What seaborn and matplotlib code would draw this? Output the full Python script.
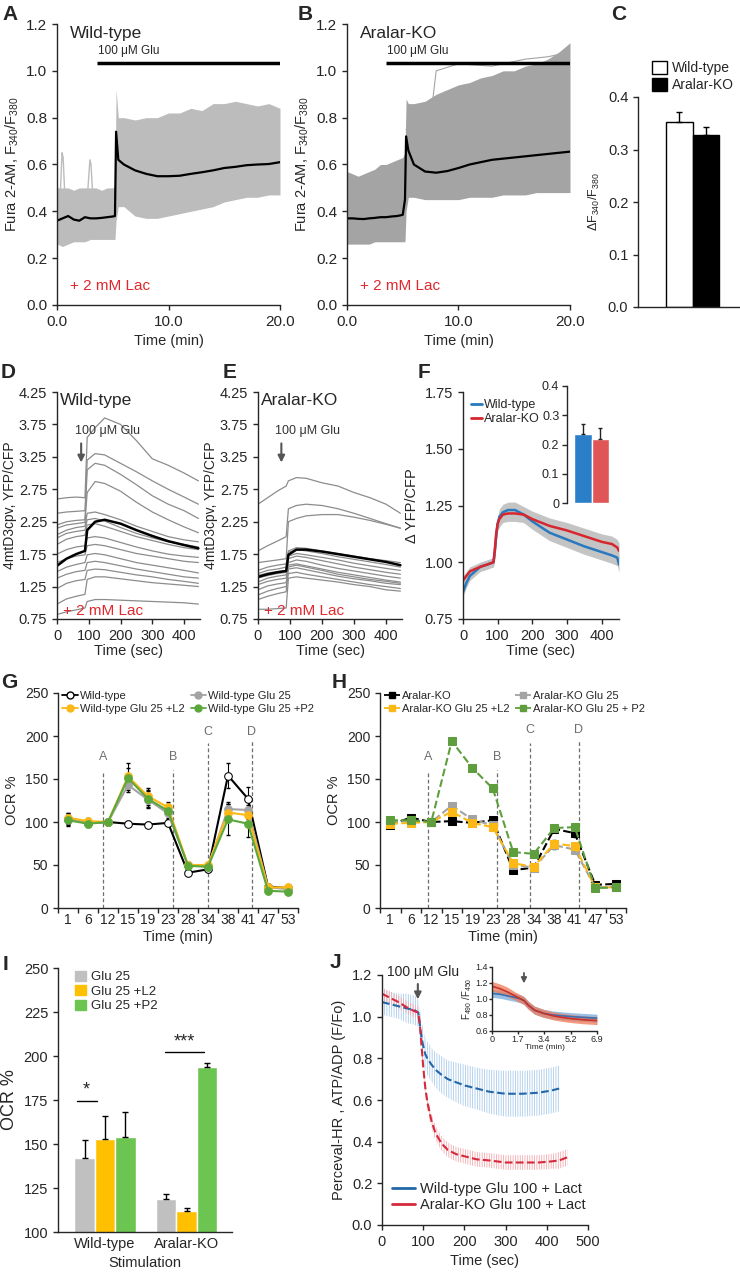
import numpy as np
import pandas as pd
import seaborn as sns
import matplotlib.pyplot as plt
from matplotlib.lines import Line2D
from matplotlib.patches import Patch

sns.set_style('ticks')
plt.rcParams['font.family'] = ['Liberation Sans', 'DejaVu Sans']
plt.rcParams['mathtext.fontset'] = 'custom'
plt.rcParams['mathtext.rm'] = 'Liberation Sans'
plt.rcParams['mathtext.it'] = 'Liberation Sans:italic'
plt.rcParams['axes.linewidth'] = 1.0
plt.rcParams['xtick.major.width'] = 1.0
plt.rcParams['ytick.major.width'] = 1.0
plt.rcParams['hatch.linewidth'] = 0.6

W, H = 740, 1280
RED_TXT = '#e0282e'

# ---------------- data: panels A, B (Fura-2, time in min) ----------------
t_fura = [0, 0.5, 1, 1.5, 2, 2.5, 3, 3.5, 4, 4.5, 5, 5.2, 5.3, 5.5, 6, 7, 8, 9,
          10, 11, 12, 13, 14, 15, 16, 17, 18, 19, 20]
wt_mean = [0.36, 0.37, 0.38, 0.365, 0.36, 0.375, 0.37, 0.37, 0.372, 0.375, 0.378,
           0.38, 0.74, 0.62, 0.60, 0.575, 0.56, 0.55, 0.55, 0.552, 0.56, 0.567,
           0.575, 0.585, 0.59, 0.597, 0.60, 0.602, 0.61]
wt_hi = [0.50, 0.50, 0.50, 0.49, 0.50, 0.50, 0.50, 0.50, 0.49, 0.50, 0.50, 0.51,
         0.92, 0.80, 0.80, 0.79, 0.80, 0.80, 0.82, 0.82, 0.84, 0.83, 0.86, 0.86,
         0.87, 0.86, 0.85, 0.86, 0.84]
wt_lo = [0.26, 0.25, 0.26, 0.27, 0.27, 0.27, 0.28, 0.28, 0.28, 0.28, 0.28, 0.28,
         0.36, 0.42, 0.42, 0.38, 0.37, 0.37, 0.38, 0.39, 0.40, 0.41, 0.42, 0.44,
         0.45, 0.46, 0.46, 0.47, 0.47]
wt_spike1_t = [0.3, 0.45, 0.55, 0.7]
wt_spike1 = [0.48, 0.65, 0.63, 0.47]
wt_spike2_t = [2.75, 2.95, 3.05, 3.2]
wt_spike2 = [0.48, 0.62, 0.60, 0.47]
ko_mean = [0.37, 0.37, 0.368, 0.367, 0.37, 0.372, 0.375, 0.375, 0.378, 0.38, 0.385,
           0.45, 0.72, 0.66, 0.60, 0.57, 0.565, 0.572, 0.585, 0.60, 0.61, 0.62,
           0.625, 0.63, 0.635, 0.64, 0.645, 0.65, 0.655]
ko_hi = [0.57, 0.56, 0.55, 0.56, 0.57, 0.58, 0.60, 0.60, 0.61, 0.62, 0.63, 0.65,
         0.88, 0.86, 0.86, 0.87, 0.90, 0.92, 0.94, 0.95, 0.97, 0.98, 1.00, 1.00,
         1.02, 1.03, 1.05, 1.08, 1.12]
ko_lo = [0.26, 0.26, 0.26, 0.26, 0.26, 0.27, 0.27, 0.27, 0.27, 0.27, 0.27, 0.27,
         0.40, 0.46, 0.46, 0.45, 0.45, 0.45, 0.45, 0.46, 0.46, 0.46, 0.47, 0.47,
         0.47, 0.48, 0.48, 0.48, 0.48]
ko_out_t = [5.3, 6, 7, 7.5, 8, 10, 13, 16, 18, 20]
ko_out = [0.75, 0.65, 0.62, 0.80, 1.00, 1.03, 1.02, 1.05, 1.06, 1.08]

# ---------------- data: panel C ----------------
c_groups = ['Wild-type', 'Aralar-KO']
c_vals = [0.352, 0.328]
c_err = [0.020, 0.015]

# ---------------- data: panels D, E (4mtD3cpv, time in sec) ----------------
t_cam = [0, 30, 60, 88, 95, 120, 150, 200, 250, 300, 350, 400, 445]
d_traces = [
    [2.60, 2.62, 2.63, 2.62, 3.55, 3.70, 3.85, 3.75, 3.50, 3.22, 3.12, 3.00, 2.88],
    [2.38, 2.40, 2.41, 2.42, 3.20, 3.30, 3.28, 3.15, 3.02, 2.88, 2.75, 2.63, 2.52],
    [2.20, 2.25, 2.27, 2.28, 3.05, 3.15, 3.12, 2.98, 2.82, 2.65, 2.52, 2.42, 2.30],
    [2.15, 2.20, 2.22, 2.24, 2.70, 2.87, 2.84, 2.72, 2.55, 2.40, 2.28, 2.17, 2.08],
    [2.05, 2.12, 2.16, 2.18, 2.38, 2.40, 2.36, 2.28, 2.18, 2.10, 2.02, 1.97, 1.94],
    [2.00, 2.07, 2.10, 2.12, 2.28, 2.30, 2.26, 2.16, 2.07, 2.00, 1.94, 1.90, 1.86],
    [1.90, 1.98, 2.02, 2.04, 2.20, 2.22, 2.18, 2.10, 2.02, 1.96, 1.90, 1.85, 1.82],
    [1.75, 1.82, 1.86, 1.88, 2.00, 2.02, 2.00, 1.93, 1.86, 1.80, 1.75, 1.72, 1.70],
    [1.62, 1.68, 1.72, 1.74, 1.88, 1.90, 1.88, 1.82, 1.76, 1.72, 1.68, 1.64, 1.62],
    [1.48, 1.55, 1.59, 1.62, 1.74, 1.76, 1.74, 1.68, 1.62, 1.58, 1.54, 1.50, 1.46],
    [1.38, 1.44, 1.48, 1.50, 1.62, 1.64, 1.62, 1.57, 1.52, 1.48, 1.44, 1.40, 1.38],
    [1.22, 1.30, 1.34, 1.36, 1.50, 1.52, 1.51, 1.47, 1.43, 1.40, 1.36, 1.33, 1.30],
    [0.98, 1.06, 1.10, 1.13, 1.36, 1.40, 1.40, 1.37, 1.34, 1.31, 1.29, 1.27, 1.25],
    [0.82, 0.86, 0.89, 0.92, 1.02, 1.05, 1.05, 1.04, 1.03, 1.02, 1.01, 1.00, 0.98],
]
d_mean = [1.57, 1.68, 1.75, 1.80, 2.12, 2.25, 2.28, 2.22, 2.12, 2.03, 1.95, 1.89, 1.84]
e_traces = [
    [2.52, 2.62, 2.72, 2.80, 2.88, 2.93, 2.92, 2.85, 2.80, 2.70, 2.62, 2.52, 2.38],
    [1.80, 1.88, 1.95, 2.02, 2.45, 2.50, 2.52, 2.50, 2.45, 2.38, 2.30, 2.22, 2.15],
    [1.62, 1.64, 1.66, 1.68, 2.25, 2.30, 2.34, 2.36, 2.36, 2.32, 2.27, 2.21, 2.15],
    [1.50, 1.55, 1.58, 1.60, 1.80, 1.85, 1.84, 1.80, 1.76, 1.72, 1.68, 1.65, 1.62],
    [1.45, 1.50, 1.52, 1.55, 1.78, 1.82, 1.80, 1.76, 1.71, 1.67, 1.63, 1.59, 1.55],
    [1.42, 1.46, 1.48, 1.50, 1.72, 1.76, 1.74, 1.70, 1.66, 1.61, 1.57, 1.53, 1.50],
    [1.38, 1.42, 1.45, 1.47, 1.68, 1.72, 1.70, 1.65, 1.60, 1.55, 1.51, 1.47, 1.44],
    [1.32, 1.38, 1.41, 1.43, 1.62, 1.66, 1.64, 1.58, 1.53, 1.49, 1.45, 1.41, 1.38],
    [1.28, 1.33, 1.36, 1.38, 1.58, 1.60, 1.57, 1.52, 1.47, 1.43, 1.39, 1.35, 1.32],
    [1.20, 1.26, 1.29, 1.31, 1.52, 1.54, 1.51, 1.46, 1.41, 1.37, 1.34, 1.30, 1.28],
    [1.12, 1.18, 1.22, 1.25, 1.45, 1.47, 1.44, 1.40, 1.36, 1.32, 1.28, 1.25, 1.22],
    [1.05, 1.10, 1.14, 1.17, 1.55, 1.58, 1.55, 1.50, 1.44, 1.40, 1.36, 1.33, 1.30],
    [0.90, 0.90, 0.91, 0.92, 1.38, 1.40, 1.38, 1.35, 1.32, 1.28, 1.25, 1.20, 1.18],
]
e_mean = [1.40, 1.44, 1.47, 1.49, 1.74, 1.82, 1.82, 1.79, 1.75, 1.71, 1.67, 1.63, 1.58]

# ---------------- data: panel F ----------------
t_f = [0, 10, 20, 35, 50, 70, 88, 92, 96, 100, 105, 115, 130, 150, 175, 200, 250,
       300, 350, 400, 430, 445, 450]
f_wt = [0.87, 0.91, 0.94, 0.96, 0.98, 0.99, 1.00, 1.05, 1.12, 1.17, 1.20, 1.22,
        1.23, 1.23, 1.21, 1.18, 1.13, 1.10, 1.07, 1.045, 1.03, 1.02, 0.99]
f_ko = [0.92, 0.94, 0.96, 0.97, 0.98, 0.99, 1.00, 1.06, 1.13, 1.17, 1.19, 1.21,
        1.215, 1.215, 1.21, 1.19, 1.16, 1.14, 1.115, 1.09, 1.08, 1.065, 1.05]
f_sem = [0.02, 0.02, 0.02, 0.02, 0.02, 0.02, 0.02, 0.03, 0.03, 0.03, 0.035, 0.035,
         0.035, 0.035, 0.035, 0.035, 0.035, 0.035, 0.035, 0.035, 0.035, 0.035, 0.035]
f_bar = [0.235, 0.218]
f_bar_err = [0.035, 0.037]

# ---------------- data: panels G, H (OCR %) ----------------
ocr_ticks = ['1', '6', '12', '15', '19', '23', '28', '34', '38', '41', '47', '53']
g_wt = [103, 99, 100, 98, 97, 99, 41, 45, 154, 127, 25, 23]
g_glu = [103, 99, 100, 143, 126, 110, 50, 48, 115, 114, 24, 22]
g_l2 = [105, 101, 100, 153, 130, 117, 50, 50, 111, 108, 24, 24]
g_p2 = [102, 98, 100, 151, 127, 113, 49, 48, 103, 98, 20, 19]
g_wt_err = [8, 3, 0, 3, 3, 3, 3, 3, 15, 14, 3, 3]
g_glu_err = [5, 4, 0, 8, 10, 6, 3, 3, 8, 10, 3, 3]
g_l2_err = [6, 4, 0, 16, 10, 6, 3, 3, 10, 12, 3, 3]
g_p2_err = [6, 4, 0, 12, 10, 8, 3, 3, 18, 15, 3, 3]
h_ko = [97, 105, 100, 101, 99, 102, 44, 47, 92, 87, 27, 28]
h_glu = [100, 101, 100, 119, 103, 96, 50, 47, 73, 68, 24, 25]
h_l2 = [98, 99, 100, 112, 99, 94, 52, 48, 75, 72, 24, 24]
h_p2 = [102, 102, 100, 194, 163, 139, 65, 63, 93, 94, 23, 24]
h_err = [3, 3, 0, 3, 3, 3, 3, 3, 4, 4, 3, 3]
g_marks = [('A', 1.75, 157, 176), ('B', 5.25, 160, 176), ('C', 7.0, 192, 205), ('D', 9.2, 194, 205)]
h_marks = [('A', 1.85, 157, 176), ('B', 5.2, 160, 176), ('C', 6.8, 192, 207), ('D', 9.2, 194, 207)]

# ---------------- data: panel I ----------------
i_groups = ['Wild-type', 'Wild-type', 'Wild-type', 'Aralar-KO', 'Aralar-KO', 'Aralar-KO']
i_conds = ['Glu 25', 'Glu 25 +L2', 'Glu 25 +P2'] * 2
i_vals = [142, 153, 154, 119, 112, 194]
i_err = [10, 13, 14, 2.5, 1.5, 2]

# ---------------- data: panel J (Perceval-HR) ----------------
t_j = [0, 20, 40, 60, 80, 88, 92, 96, 100, 105, 110, 120, 130, 145, 160, 180, 200,
       230, 260, 300, 340, 380, 410, 430, 450]
j_wt = [1.07, 1.06, 1.05, 1.04, 1.03, 1.02, 0.96, 0.90, 0.86, 0.82, 0.80, 0.77,
        0.745, 0.72, 0.70, 0.685, 0.67, 0.655, 0.64, 0.63, 0.63, 0.635, 0.645, 0.655]
j_wt_err = [0.06, 0.06, 0.06, 0.07, 0.07, 0.07, 0.08, 0.08, 0.08, 0.08, 0.08, 0.08,
            0.085, 0.09, 0.09, 0.095, 0.10, 0.10, 0.105, 0.11, 0.11, 0.11, 0.11, 0.11]
j_ko = [1.11, 1.09, 1.07, 1.045, 1.025, 1.02, 0.96, 0.86, 0.76, 0.66, 0.59, 0.50,
        0.44, 0.39, 0.36, 0.34, 0.33, 0.315, 0.31, 0.30, 0.30, 0.30, 0.305, 0.31, 0.325]
j_ko_err = [0.03, 0.03, 0.03, 0.03, 0.03, 0.03, 0.03, 0.035, 0.035, 0.035, 0.035, 0.035,
            0.035, 0.035, 0.035, 0.035, 0.035, 0.035, 0.035, 0.035, 0.035, 0.035, 0.035,
            0.04, 0.04]
t_jin = [0, 0.5, 1.0, 1.5, 1.9, 2.1, 2.4, 2.8, 3.4, 4.0, 4.6, 5.2, 6.0, 6.9]
jin_wt = [1.07, 1.06, 1.04, 1.02, 1.00, 0.98, 0.92, 0.86, 0.82, 0.80, 0.79, 0.78, 0.77, 0.76]
jin_ko = [1.16, 1.13, 1.09, 1.04, 1.00, 0.98, 0.92, 0.86, 0.82, 0.79, 0.77, 0.755, 0.74, 0.73]
jin_wt_err = [0.05] * 14
jin_ko_err = [0.06, 0.06, 0.06, 0.05, 0.05, 0.05, 0.05, 0.05, 0.05, 0.05, 0.05, 0.05, 0.05, 0.05]

BLUE = '#2a78bd'
REDL = '#d7262e'

fig = plt.figure(figsize=(7.4, 12.8), dpi=100)


def px_axes(l, t, r, b):
    return fig.add_axes([l / W, 1 - b / H, (r - l) / W, (b - t) / H])


def letter(x, y, s):
    fig.text(x / W, 1 - y / H, s, fontsize=15, fontweight='bold', ha='center', va='center')


def clean(ax):
    sns.despine(ax=ax)


# ---------- A & B ----------
for (l, r), mean, hi, lo, name, bar0, gcol in [((57, 280), wt_mean, wt_hi, wt_lo, 'Wild-type', 3.6, '#bcbcbc'),
                                               ((347, 570), ko_mean, ko_hi, ko_lo, 'Aralar-KO', 3.5, '#a4a4a4')]:
    ax = px_axes(l, 24, r, 305)
    ax.fill_between(t_fura, lo, hi, color=gcol, lw=0)
    if name == 'Aralar-KO':
        sns.lineplot(x=ko_out_t, y=ko_out, color=gcol, lw=0.8, ax=ax)
    else:
        sns.lineplot(x=wt_spike1_t, y=wt_spike1, color=gcol, lw=1.0, ax=ax)
        sns.lineplot(x=wt_spike2_t, y=wt_spike2, color=gcol, lw=1.0, ax=ax)
    sns.lineplot(x=t_fura, y=mean, color='black', lw=1.6, ax=ax)
    ax.plot([bar0, 20], [1.035, 1.035], color='black', lw=2.5, solid_capstyle='butt')
    ax.text(bar0 + 0.05, 1.06, '100 μM Glu', fontsize=8.5, va='bottom')
    ax.text(1.2, 1.16, name, fontsize=12.5, va='center')
    ax.text(1.2, 0.08, '+ 2 mM Lac', fontsize=11, color=RED_TXT, va='center')
    ax.set_xlim(0, 20)
    ax.set_ylim(0, 1.2)
    ax.set_xticks([0, 10, 20])
    ax.set_xticklabels(['0.0', '10.0', '20.0'])
    ax.set_yticks(np.arange(0, 1.21, 0.2))
    ax.set_yticklabels(['%.1f' % v for v in np.arange(0, 1.21, 0.2)])
    ax.tick_params(labelsize=11)
    ax.set_xlabel('Time (min)', fontsize=10.5)
    ax.set_ylabel('Fura 2-AM, F$_{340}$/F$_{380}$', fontsize=10.5)
    clean(ax)

# ---------- C ----------
ax = px_axes(638, 97, 740, 307)
sns.barplot(x=c_groups, y=c_vals, hue=c_groups, palette=['white', 'black'], saturation=1,
            edgecolor='black', linewidth=1, width=1.0, legend=False, ax=ax)
ax.errorbar([0, 1], c_vals, yerr=[[0, 0], c_err], fmt='none', ecolor='black', elinewidth=1, capsize=2)
ax.set_xlim(-1.58, 2.31)
ax.set_ylim(0, 0.4)
ax.set_xticks([])
ax.set_yticks([0, 0.1, 0.2, 0.3, 0.4])
ax.set_yticklabels(['0.0', '0.1', '0.2', '0.3', '0.4'])
ax.tick_params(labelsize=10.5)
ax.set_ylabel('ΔF$_{340}$/F$_{380}$', fontsize=9)
ax.legend(handles=[Patch(facecolor='white', edgecolor='black', label='Wild-type'),
                   Patch(facecolor='black', edgecolor='black', label='Aralar-KO')],
          loc='upper left', bbox_to_anchor=((646 - 638) / 102, 1.2), frameon=False,
          fontsize=10, handlelength=1.1, handleheight=1.1, handletextpad=0.4,
          labelspacing=0.2, borderaxespad=0)
clean(ax)

# ---------- D & E ----------
for (l, r), traces, mean, name, arr_t in [((57, 200), d_traces, d_mean, 'Wild-type', 76),
                                          ((258, 402), e_traces, e_mean, 'Aralar-KO', 73)]:
    ax = px_axes(l, 392, r, 619)
    for tr in traces:
        sns.lineplot(x=t_cam, y=tr, color='#8c8c8c', lw=0.9, ax=ax)
    sns.lineplot(x=t_cam, y=mean, color='black', lw=1.8, ax=ax)
    ax.annotate('', xy=(arr_t, 3.12), xytext=(arr_t, 3.50),
                arrowprops=dict(arrowstyle='-|>', color='#555555', lw=1.5, mutation_scale=10))
    ax.text(arr_t - 20, 3.56, '100 μM Glu', fontsize=9, color='#333333', va='bottom')
    ax.text(10, 4.12, name, fontsize=12.5, va='center')
    ax.text(20, 0.87, '+ 2 mM Lac', fontsize=11, color=RED_TXT, va='center')
    ax.set_xlim(0, 450)
    ax.set_ylim(0.75, 4.25)
    ax.set_xticks([0, 100, 200, 300, 400])
    ax.set_yticks(np.arange(0.75, 4.26, 0.5))
    ax.set_yticklabels(['%.2f' % v for v in np.arange(0.75, 4.26, 0.5)])
    ax.tick_params(labelsize=10.5)
    ax.set_xlabel('Time (sec)', fontsize=10.5, labelpad=1)
    ax.set_ylabel('4mtD3cpv, YFP/CFP', fontsize=10, labelpad=1)
    clean(ax)

# ---------- F ----------
ax = px_axes(463, 392, 619, 619)
for vals in (f_wt, f_ko):
    ax.fill_between(t_f, np.array(vals) - np.array(f_sem), np.array(vals) + np.array(f_sem),
                    color='#c4c4c4', lw=0)
sns.lineplot(x=t_f, y=f_wt, color=BLUE, lw=1.8, ax=ax)
sns.lineplot(x=t_f, y=f_ko, color=REDL, lw=1.8, ax=ax)
ax.set_xlim(0, 450)
ax.set_ylim(0.75, 1.75)
ax.set_xticks([0, 100, 200, 300, 400])
ax.set_yticks([0.75, 1.0, 1.25, 1.5, 1.75])
ax.set_yticklabels(['0.75', '1.00', '1.25', '1.50', '1.75'])
ax.tick_params(labelsize=10.5)
ax.set_xlabel('Time (sec)', fontsize=10.5, labelpad=1)
ax.set_ylabel('Δ YFP/CFP', fontsize=10.5)
ax.legend(handles=[Line2D([], [], color=BLUE, lw=2, label='Wild-type'),
                   Line2D([], [], color=REDL, lw=2, label='Aralar-KO')],
          loc='upper left', bbox_to_anchor=(0.02, 0.99), frameon=False, fontsize=9,
          handlelength=0.9, handletextpad=0.1, labelspacing=0.15, borderaxespad=0)
clean(ax)

axi = px_axes(567, 386, 612, 503)
sns.barplot(x=c_groups, y=f_bar, hue=c_groups, palette=['#2b7fc9', '#e05656'], saturation=1,
            width=1.0, legend=False, ax=axi)
axi.errorbar([0, 1], f_bar, yerr=[[0, 0], f_bar_err], fmt='none', ecolor='#222222',
             elinewidth=1, capsize=1.5)
axi.set_xlim(-0.9, 1.67)
axi.set_ylim(0, 0.4)
axi.set_xticks([])
axi.set_yticks([0, 0.1, 0.2, 0.3, 0.4])
axi.set_yticklabels(['0', '0.1', '0.2', '0.3', '0.4'])
axi.tick_params(labelsize=9, pad=2)
axi.set_ylabel('')
sns.despine(ax=axi, bottom=True)
axi.patch.set_alpha(0)

# ---------- G & H ----------
xpos = np.arange(12)


def ocr_axes(l, r, series, marks, dashed):
    ax = px_axes(l, 693, r, 908)
    for name, vals, errs, color, mk, mfc in series:
        ax.errorbar(xpos, vals, yerr=errs, fmt='none', ecolor='black', elinewidth=0.8,
                    capsize=1.5, zorder=1.5)
        sns.lineplot(x=xpos, y=vals, color=color, lw=1.5, marker=mk, markersize=5.5,
                     markerfacecolor=mfc, markeredgecolor=color, zorder=3,
                     linestyle='--' if dashed else '-', ax=ax)
    for lab, xv, top, ytxt in marks:
        ax.vlines(xv, 0, top, colors='#6e6e6e', linestyles=(0, (3, 2)), lw=0.9, zorder=1)
        ax.text(xv, ytxt, lab, color='#6e6e6e', fontsize=9, ha='center', va='center')
    ax.set_xlim(-0.5, 11.5)
    ax.set_ylim(0, 250)
    ax.set_xticks(np.arange(-0.5, 12, 1))
    ax.set_xticklabels([])
    ax.set_xticks(xpos, minor=True)
    ax.set_xticklabels(ocr_ticks, minor=True)
    ax.tick_params(axis='x', which='minor', length=0, labelsize=10)
    ax.set_yticks([0, 50, 100, 150, 200, 250])
    ax.tick_params(axis='y', labelsize=10)
    ax.set_xlabel('Time (min)', fontsize=10.5, labelpad=2)
    ax.set_ylabel('OCR %', fontsize=10.5)
    order = [0, 2, 1, 3]
    handles = [Line2D([], [], color=series[i][3], marker=series[i][4], markersize=5,
                      markerfacecolor=series[i][5], markeredgecolor=series[i][3],
                      linestyle='--' if dashed else '-', lw=1.3, label=series[i][0]) for i in order]
    ax.legend(handles=handles, ncol=2, loc='upper left', bbox_to_anchor=(0.0, 1.03),
              frameon=False, fontsize=8, handlelength=1.4, handletextpad=0.2,
              columnspacing=0.5, labelspacing=0.25, borderaxespad=0)
    clean(ax)
    return ax


ocr_axes(58, 298, [
    ('Wild-type', g_wt, g_wt_err, 'black', 'o', 'white'),
    ('Wild-type Glu 25', g_glu, g_glu_err, '#a3a3a3', 'o', '#a3a3a3'),
    ('Wild-type Glu 25 +L2', g_l2, g_l2_err, '#fbb817', 'o', '#fbb817'),
    ('Wild-type Glu 25 +P2', g_p2, g_p2_err, '#5aa83c', 'o', '#5aa83c'),
], g_marks, False)

ocr_axes(380, 626, [
    ('Aralar-KO', h_ko, h_err, 'black', 's', 'black'),
    ('Aralar-KO Glu 25', h_glu, h_err, '#a3a3a3', 's', '#a3a3a3'),
    ('Aralar-KO Glu 25 +L2', h_l2, h_err, '#fbb817', 's', '#fbb817'),
    ('Aralar-KO Glu 25 + P2', h_p2, h_err, '#5f9e3f', 's', '#5f9e3f'),
], h_marks, True)

# ---------- I ----------
ax = px_axes(58, 968, 232, 1232)
i_pal = {'Glu 25': '#c0c0c0', 'Glu 25 +L2': '#ffc000', 'Glu 25 +P2': '#6cc550'}
df_i = pd.DataFrame({'group': i_groups, 'cond': i_conds, 'ocr': i_vals})
sns.barplot(data=df_i, x='group', y='ocr', hue='cond', palette=i_pal, width=0.75,
            saturation=1, errorbar=None, legend=False, ax=ax)
i_x = [-0.25, 0.0, 0.25, 0.75, 1.0, 1.25]
ax.errorbar(i_x, i_vals, yerr=[[0] * 6, i_err], fmt='none', ecolor='black', elinewidth=1, capsize=2)
ax.plot([-0.35, -0.1], [174.5, 174.5], color='black', lw=1)
ax.text(-0.225, 176, '*', fontsize=13, ha='center', va='bottom')
ax.plot([0.73, 1.22], [202, 202], color='black', lw=1)
ax.text(0.975, 203, '***', fontsize=13, ha='center', va='bottom')
ax.set_xlim(-0.577, 1.558)
ax.set_ylim(100, 250)
ax.set_yticks([100, 125, 150, 175, 200, 225, 250])
ax.tick_params(labelsize=10.5)
ax.tick_params(axis='x', length=0)
ax.set_xlabel('Stimulation', fontsize=10.5)
ax.set_ylabel('OCR %', fontsize=13)
ax.legend(handles=[Patch(color=i_pal[k], label=k) for k in i_pal], loc='upper left',
          bbox_to_anchor=(0.07, 1.01), frameon=False, fontsize=9.5, handlelength=0.8,
          handleheight=0.8, handletextpad=0.4, labelspacing=0.15, borderaxespad=0)
clean(ax)

# ---------- J ----------
ax = px_axes(382, 975, 588, 1225)
t_j_wt = t_j[:len(j_wt)]
ax.fill_between(t_j_wt, np.array(j_wt) - np.array(j_wt_err), np.array(j_wt) + np.array(j_wt_err),
                facecolor='none', edgecolor='#a9cbea', hatch='|||||||', lw=0)
ax.fill_between(t_j, np.array(j_ko) - np.array(j_ko_err), np.array(j_ko) + np.array(j_ko_err),
                facecolor='none', edgecolor='#f2a9ae', hatch='|||||||', lw=0)
sns.lineplot(x=t_j_wt, y=j_wt, color='#2467a8', lw=1.5, linestyle='--', ax=ax)
sns.lineplot(x=t_j, y=j_ko, color='#d42a3c', lw=1.5, linestyle='--', ax=ax)
ax.annotate('', xy=(87, 1.07), xytext=(87, 1.17),
            arrowprops=dict(arrowstyle='-|>', color='#555555', lw=1.5, mutation_scale=10))
ax.text(100, 1.215, '100 μM Glu', fontsize=10, ha='center', va='center')
ax.set_xlim(0, 500)
ax.set_ylim(0, 1.2)
ax.set_xticks([0, 100, 200, 300, 400, 500])
ax.set_yticks(np.arange(0, 1.21, 0.2))
ax.set_yticklabels(['%.1f' % v for v in np.arange(0, 1.21, 0.2)])
ax.tick_params(labelsize=10.5)
ax.set_xlabel('Time (sec)', fontsize=10.5)
ax.set_ylabel('Perceval-HR , ATP/ADP (F/Fo)', fontsize=10.5)
ax.legend(handles=[Line2D([], [], color='#2467a8', lw=2, label='Wild-type Glu 100 + Lact'),
                   Line2D([], [], color='#d42a3c', lw=2, label='Aralar-KO Glu 100 + Lact')],
          loc='lower left', bbox_to_anchor=(0.02, 0.03), frameon=False, fontsize=10.5,
          handlelength=1.6, handletextpad=0.3, labelspacing=0.1, borderaxespad=0)
clean(ax)

axj = px_axes(492, 967, 597, 1031)
axj.fill_between(t_jin, np.array(jin_wt) - np.array(jin_wt_err), np.array(jin_wt) + np.array(jin_wt_err),
                 color='#7fb0e0', lw=0, alpha=0.8)
axj.fill_between(t_jin, np.array(jin_ko) - np.array(jin_ko_err), np.array(jin_ko) + np.array(jin_ko_err),
                 color='#f07a55', lw=0, alpha=0.75)
sns.lineplot(x=t_jin, y=jin_wt, color='#3a6fb0', lw=1.2, ax=axj)
sns.lineplot(x=t_jin, y=jin_ko, color='#c8302e', lw=1.2, ax=axj)
axj.annotate('', xy=(2.1, 1.16), xytext=(2.1, 1.36),
             arrowprops=dict(arrowstyle='-|>', color='#555555', lw=1.3, mutation_scale=8))
axj.set_xlim(0, 6.9)
axj.set_ylim(0.6, 1.4)
axj.set_xticks([0, 1.7, 3.4, 5.2, 6.9])
axj.set_xticklabels(['0', '1.7', '3.4', '5.2', '6.9'])
axj.set_yticks([0.6, 0.8, 1.0, 1.2, 1.4])
axj.tick_params(labelsize=6.5, length=2, pad=1)
axj.set_xlabel('Time (min)', fontsize=6, labelpad=0)
axj.set_ylabel('F$_{490}$ /F$_{450}$', fontsize=7, labelpad=1)
axj.patch.set_alpha(0)
clean(axj)

# ---------- panel letters ----------
for x, y, s in [(10, 15, 'A'), (305, 15, 'B'), (619, 14, 'C'), (8, 372, 'D'), (230, 372, 'E'),
                (424, 372, 'F'), (9, 683, 'G'), (339, 683, 'H'), (6, 965, 'I'), (335, 963, 'J')]:
    letter(x, y, s)

fig.savefig('out.png', dpi=100)
